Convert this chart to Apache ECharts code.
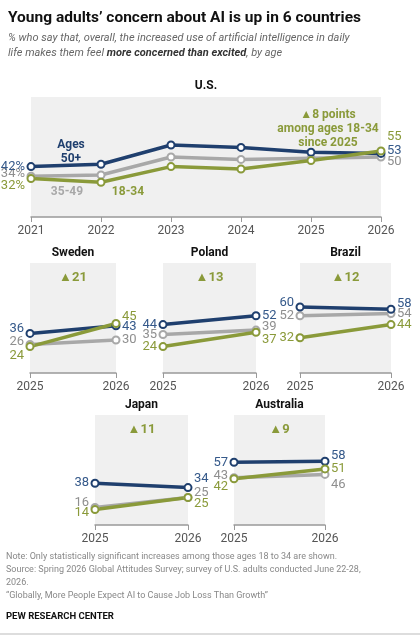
<!DOCTYPE html>
<html>
<head>
<meta charset="utf-8">
<script src="https://cdn.jsdelivr.net/npm/echarts@6/dist/echarts.min.js"></script>
<style>html,body{margin:0;padding:0;background:#fff}#main{width:420px;height:636px}</style>
</head>
<body>
<div id="main"></div>
<script>
// data
var usYears = ['2021', '2022', '2023', '2024', '2025', '2026'];
var usOld = [42, 44, 60, 58, 54, 53];
var usMid = [34, 35, 50, 48, 49, 50];
var usYoung = [32, 29, 42, 40, 47, 55];
var pairYears = ['2025', '2026'];
var countries = ['Sweden', 'Poland', 'Brazil', 'Japan', 'Australia'];
var oldVals = [[36, 43], [44, 52], [60, 58], [38, 34], [57, 58]];
var midVals = [[26, 30], [35, 39], [52, 54], [16, 25], [43, 46]];
var youngVals = [[24, 45], [24, 37], [32, 44], [14, 25], [42, 51]];
var increases = [21, 13, 12, 11, 9];

var BLUE = '#1f3f6e', GRAY = '#a8a8a8', GREEN = '#8a9a3a';
var BLUE_T = '#35598a', GRAY_T = '#8f8f8f', GREEN_T = '#8a9a3a';
var FONT = 'Roboto, "Liberation Sans", sans-serif';

// panel rects
var panels = [
	{left: 31, top: 97, width: 350, height: 120},
	{left: 30, top: 263, width: 86, height: 110},
	{left: 163, top: 263, width: 93, height: 110},
	{left: 300, top: 263, width: 91, height: 110},
	{left: 95, top: 415, width: 93, height: 110},
	{left: 234, top: 415, width: 91, height: 110}
];
// end label dy [left, right] per series: old, mid, young
var offs = [
	[[0, -3], [-2, 5], [7, -14]],
	[[-5, 1], [-3, 0], [9, -7]],
	[[0, 0], [0, -3], [0, 7]],
	[[-4, -5], [0, 0], [0, 0]],
	[[0, -9], [-5, -5], [3, 6]],
	[[0, -5], [-2, 10], [8, 0]]
];

var grids = [], xAxes = [], yAxes = [], series = [];
panels.forEach(function (p, i) {
	grids.push({left: p.left, top: p.top, width: p.width, height: p.height,
		show: true, backgroundColor: '#f0f0f0', borderWidth: 0});
	xAxes.push({type: 'category', gridIndex: i, boundaryGap: false,
		data: i == 0 ? usYears : pairYears,
		axisLine: {lineStyle: {color: '#999', width: 1.5}},
		axisTick: {show: true, length: 5, lineStyle: {color: '#999'}},
		axisLabel: {color: '#555', fontSize: 12, fontFamily: FONT, margin: 8,
			alignMinLabel: 'center', alignMaxLabel: 'center'}});
	yAxes.push({type: 'value', gridIndex: i, min: 0, max: 100, show: false});
});

var sets = [];
function mkSeries(idx, vals, color, tcolor, od, pct) {
	sets.push({idx: idx, vals: vals, color: tcolor, od: od, pct: pct});
	return {type: 'line', xAxisIndex: idx, yAxisIndex: idx, data: vals,
		symbol: 'circle', symbolSize: 7, showSymbol: true,
		lineStyle: {color: color, width: 3.5},
		itemStyle: {color: '#fff', borderColor: color, borderWidth: 2},
		emphasis: {disabled: true}, z: 2, animation: false};
}

series.push(mkSeries(0, usMid, GRAY, GRAY_T, offs[0][1], true));
series.push(mkSeries(0, usOld, BLUE, BLUE_T, offs[0][0], true));
series.push(mkSeries(0, usYoung, GREEN, GREEN_T, offs[0][2], true));
for (var c = 0; c < countries.length; c++) {
	var o = offs[c + 1];
	series.push(mkSeries(c + 1, midVals[c], GRAY, GRAY_T, o[1], false));
	series.push(mkSeries(c + 1, oldVals[c], BLUE, BLUE_T, o[0], false));
	series.push(mkSeries(c + 1, youngVals[c], GREEN, GREEN_T, o[2], false));
}

var graphics = [
	{type: 'text', left: 8, top: 10, style: {text: 'Young adults\u2019 concern about AI is up in 6 countries',
		font: 'bold 15.5px ' + FONT, fill: '#111'}},
	{type: 'text', left: 8, top: 33, style: {
		text: '{i|% who say that, overall, the increased use of artificial intelligence in daily}\n{i|life makes them feel }{b|more concerned than excited}{i|, by age}',
		rich: {i: {font: 'italic 11px ' + FONT, fill: '#666', lineHeight: 15},
			b: {font: 'italic bold 11px ' + FONT, fill: '#333', lineHeight: 15}}}},
	{type: 'text', x: 206, y: 80, style: {text: 'U.S.', font: 'bold 12px ' + FONT, fill: '#111', align: 'center'}},
	{type: 'text', x: 71, y: 138, style: {text: 'Ages\n50+', font: 'bold 12px ' + FONT, fill: BLUE, align: 'center', lineHeight: 14}},
	{type: 'text', x: 67, y: 186, style: {text: '35-49', font: 'bold 12px ' + FONT, fill: GRAY, align: 'center'}},
	{type: 'text', x: 128, y: 186, style: {text: '18-34', font: 'bold 12px ' + FONT, fill: GREEN, align: 'center'}},
	{type: 'text', x: 328, y: 108, style: {text: '\u25B28 points\namong ages 18-34\nsince 2025', font: 'bold 12px ' + FONT,
		fill: GREEN, align: 'center', lineHeight: 14}},
	{type: 'text', left: 6, top: 550, style: {
		text: 'Note: Only statistically significant increases among those ages 18 to 34 are shown.\nSource: Spring 2026 Global Attitudes Survey; survey of U.S. adults conducted June 22-28,\n2026.\n\u201cGlobally, More People Expect AI to Cause Job Loss Than Growth\u201d',
		font: '9px ' + FONT, fill: '#888', lineHeight: 13}},
	{type: 'text', left: 6, top: 612, style: {text: 'PEW RESEARCH CENTER', font: 'bold 9.5px ' + FONT, fill: '#111'}},
	{type: 'line', shape: {x1: 0, y1: 634, x2: 420, y2: 634}, style: {stroke: '#bbb', lineWidth: 1}}
];
for (var k = 0; k < countries.length; k++) {
	var p = panels[k + 1];
	graphics.push({type: 'text', x: p.left + p.width / 2, y: p.top - 16,
		style: {text: countries[k], font: 'bold 12px ' + FONT, fill: '#111', align: 'center'}});
	graphics.push({type: 'text', x: p.left + p.width / 2, y: p.top + 8,
		style: {text: '\u25B2' + increases[k], font: 'bold 13px ' + FONT, fill: GREEN, align: 'center'}});
}

var myChart = echarts.init(document.getElementById('main'));
myChart.setOption({
	animation: false,
	grid: grids, xAxis: xAxes, yAxis: yAxes, series: series
});

// end labels placed through the chart's own scales
sets.forEach(function (s) {
	var xs = s.idx == 0 ? usYears : pairYears;
	var n = s.vals.length;
	[0, n - 1].forEach(function (k) {
		var pt = myChart.convertToPixel({gridIndex: s.idx}, [xs[k], s.vals[k]]);
		var left = k == 0;
		graphics.push({type: 'text', x: pt[0] + (left ? -6 : 6), y: pt[1] + (left ? s.od[0] : s.od[1]),
			style: {text: s.vals[k] + (left && s.pct ? '%' : ''), font: '13px ' + FONT, fill: s.color,
				align: left ? 'right' : 'left', verticalAlign: 'middle'}, z: 10});
	});
});
myChart.setOption({graphic: graphics});
</script>
</body>
</html>
